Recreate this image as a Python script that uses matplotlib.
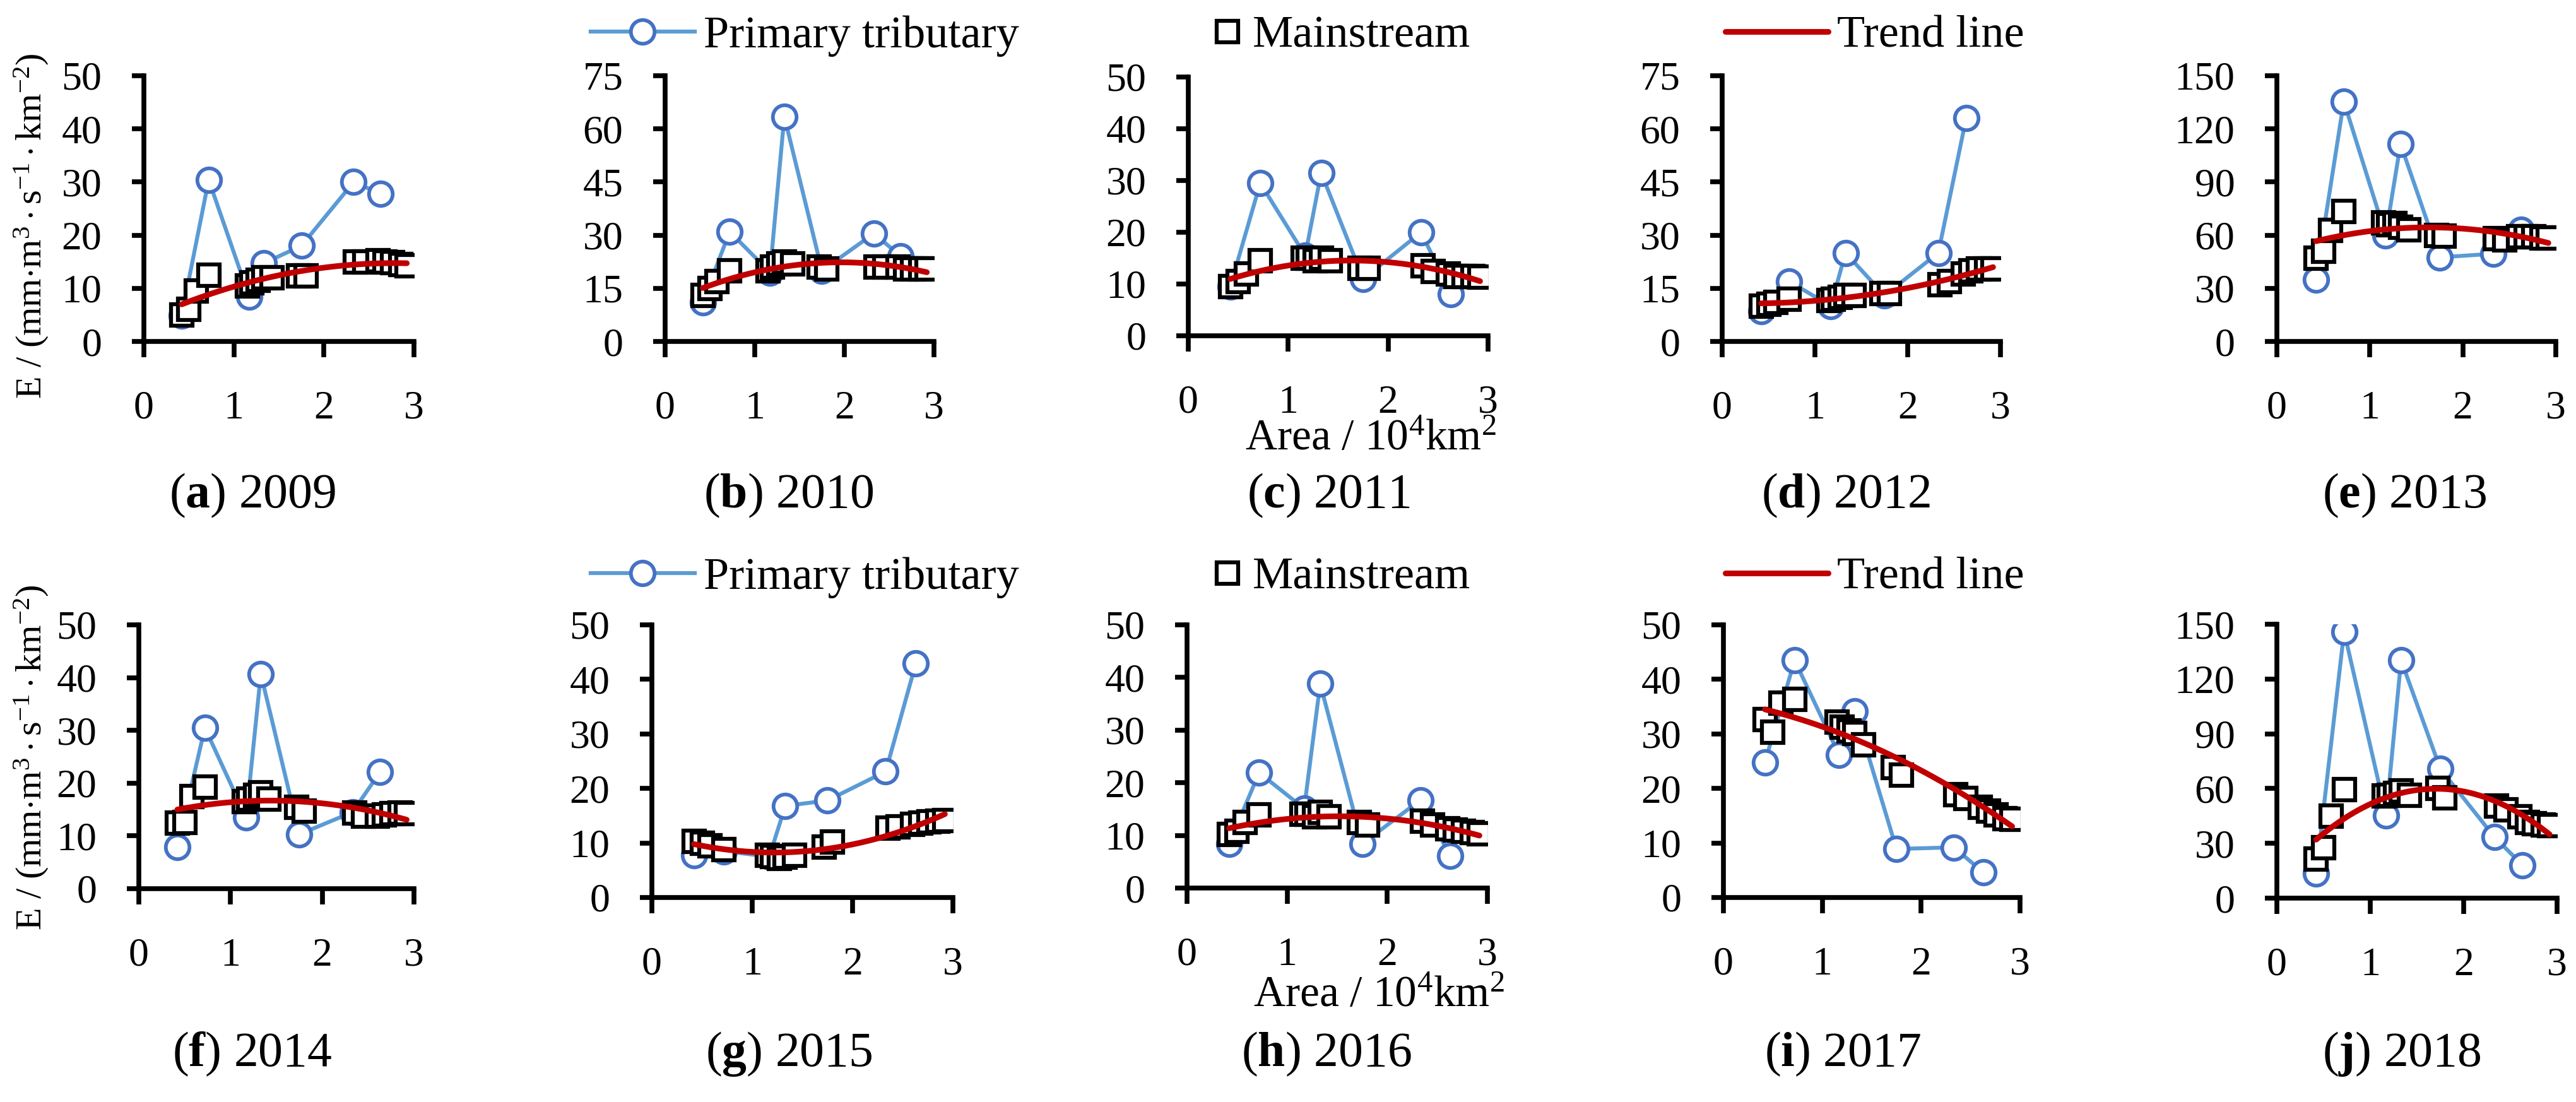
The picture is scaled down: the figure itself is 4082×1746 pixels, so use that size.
import numpy as np
import matplotlib
matplotlib.use("Agg")
import matplotlib.pyplot as plt

plt.rcParams['font.family'] = ['Liberation Serif', 'DejaVu Serif']
plt.rcParams['mathtext.fontset'] = 'custom'
plt.rcParams['mathtext.rm'] = 'Liberation Serif'
plt.rcParams['mathtext.it'] = 'Liberation Serif:italic'
plt.rcParams['mathtext.bf'] = 'Liberation Serif:bold'

# areas (10^4 km2) of the stations
trib_x = [0.42, 0.72, 1.17, 1.33, 1.75, 2.33, 2.63]
main_x = [0.42, 0.50, 0.58, 0.72, 1.15, 1.20, 1.27, 1.33, 1.42,
          1.72, 1.80, 2.35, 2.45, 2.60, 2.68, 2.76, 2.85, 2.92]

years = ['2009', '2010', '2011', '2012', '2013',
         '2014', '2015', '2016', '2017', '2018']
letters = ['a', 'b', 'c', 'd', 'e', 'f', 'g', 'h', 'i', 'j']
y_max = [50, 75, 50, 75, 150, 50, 50, 50, 50, 150]
y_step = [10, 15, 10, 15, 30, 10, 10, 10, 10, 30]

trib_2009 = [4.9, 30.4, 8.4, 14.7, 18.0, 30.0, 27.8]
trib_2010 = [11.0, 31.0, 19.5, 63.5, 20.0, 30.5, 24.0]
trib_2011 = [9.5, 29.5, 15.5, 31.5, 11.0, 20.0, 8.0]
trib_2012 = [8.5, 17.0, 10.0, 25.0, 13.0, 25.0, 63.0]
trib_2013 = [35.0, 135.5, 60.0, 111.5, 47.5, 49.5, 63.0]
trib_2014 = [7.9, 30.5, 13.5, 40.7, 10.3, 14.5, 22.1]
trib_2015 = [7.7, 8.5, 7.5, 16.8, 17.8, 23.1, 42.9]
trib_2016 = [8.4, 21.9, 15.1, 38.8, 8.4, 16.7, 6.1]
trib_2017 = [24.8, 43.5, 26.2, 34.2, 8.9, 9.2, 4.6]
trib_2018 = [13.5, 146.0, 45.4, 130.3, 70.8, 33.4, 18.1]

main_2009 = [5.0, 6.0, 9.5, 12.5, 10.5, 11.0, 11.5, 12.0, 12.0,
             12.3, 12.3, 15.0, 15.0, 15.2, 15.0, 14.8, 14.5, 14.3]
main_2010 = [13.0, 15.0, 17.0, 20.0, 20.0, 21.0, 22.0, 22.5, 22.0,
             21.0, 20.5, 21.0, 21.0, 21.0, 20.5, 20.5, 20.5, 20.5]
main_2011 = [9.5, 10.5, 12.0, 14.5, 15.0, 15.0, 14.5, 15.0, 14.5,
             13.0, 13.0, 13.5, 12.5, 12.0, 11.5, 11.5, 11.5, 11.3]
main_2012 = [10.0, 10.5, 11.0, 12.0, 11.5, 12.0, 12.5, 13.0, 13.0,
             13.5, 13.5, 16.0, 17.0, 19.0, 20.0, 20.5, 20.5, 20.5]
main_2013 = [46.9, 50.8, 62.8, 73.4, 67.0, 66.0, 66.5, 64.5, 63.0,
             60.0, 59.5, 58.0, 57.5, 59.0, 59.0, 59.0, 58.5, 58.5]
main_2014 = [12.5, 12.6, 17.5, 19.2, 16.5, 17.0, 17.7, 18.2, 17.0,
             15.4, 14.7, 14.4, 13.7, 13.8, 14.0, 14.2, 14.4, 14.2]
main_2015 = [10.3, 10.0, 9.5, 8.8, 7.8, 7.5, 7.2, 7.4, 7.7,
             9.3, 10.2, 12.7, 13.0, 13.4, 13.6, 13.9, 14.0, 14.1]
main_2016 = [10.2, 10.8, 12.5, 13.9, 14.0, 14.0, 13.6, 14.4, 13.5,
             12.5, 12.0, 12.7, 12.0, 11.3, 11.0, 10.8, 10.5, 10.3]
main_2017 = [32.6, 30.3, 35.6, 36.4, 32.2, 31.2, 30.5, 30.1, 28.0,
             23.9, 22.5, 18.9, 18.2, 16.5, 15.9, 15.2, 14.5, 14.3]
main_2018 = [21.6, 27.7, 44.8, 59.4, 55.9, 56.3, 57.5, 58.8, 56.5,
             60.1, 55.0, 50.6, 48.3, 44.5, 41.6, 40.8, 40.2, 39.7]

tribs = [trib_2009, trib_2010, trib_2011, trib_2012, trib_2013,
         trib_2014, trib_2015, trib_2016, trib_2017, trib_2018]
mains = [main_2009, main_2010, main_2011, main_2012, main_2013,
         main_2014, main_2015, main_2016, main_2017, main_2018]

W, H = 4082, 1746
# axes boxes in pixels: left, right, top, bottom
boxes = [(228, 656, 120, 541), (1054, 1480, 120, 541), (1883, 2358, 122, 532),
         (2729, 3170, 120, 541), (3608, 4050, 120, 541),
         (220, 656, 990, 1408), (1033, 1510, 990, 1422), (1881, 2357, 990, 1407),
         (2731, 3201, 990, 1422), (3608, 4052, 989, 1423)]
cap_x = [400, 1250, 2105, 2925, 3810, 400, 1250, 2102, 2920, 3806]

fig = plt.figure(figsize=(W / 100, H / 100), dpi=100)

blue_line = '#5B9BD5'
blue_mark = '#4472C4'
red = '#C00000'
handles = None

for k in range(10):
    l, r, t, b = boxes[k]
    ax = fig.add_axes([l / W, 1 - b / H, (r - l) / W, (b - t) / H])
    h1, = ax.plot(trib_x, tribs[k], color=blue_line, lw=4.5, marker='o', ms=27,
                  mfc='white', mec=blue_mark, mew=4.2, zorder=2)
    h2, = ax.plot(main_x, mains[k], ls='none', marker='s', ms=25,
                  mfc='white', mec='black', mew=4.5, zorder=3)
    # polynomial trend of the mainstream points
    coef = np.polyfit(main_x, mains[k], 2)
    xs = np.linspace(main_x[0], main_x[-1], 200)
    h3, = ax.plot(xs, np.polyval(coef, xs), color=red, lw=6.5,
                  solid_capstyle='round', zorder=4)
    if handles is None:
        handles = (h1, h2, h3)
    ax.set_xlim(0, 3)
    ax.set_ylim(0, y_max[k])
    ax.set_xticks([0, 1, 2, 3])
    ax.set_yticks(np.arange(0, y_max[k] + 1, y_step[k]))
    for s in ['top', 'right']:
        ax.spines[s].set_visible(False)
    for s in ['left', 'bottom']:
        ax.spines[s].set_linewidth(5.5)
    ax.tick_params(axis='y', direction='out', length=14, width=5.5, pad=34,
                   labelsize=46)
    ax.tick_params(axis='x', direction='out', length=18, width=5.5, pad=38,
                   labelsize=46)
    ax.patch.set_alpha(0)
    fig.text(cap_x[k] / W, 1 - (785 if k < 5 else 1670) / H,
             r'($\mathbf{' + letters[k] + r'}$) ' + years[k],
             fontsize=56, ha='center', va='center')

# y labels and x labels
ylab = r'E / (mm$\cdot$m$^3\cdot$s$^{-1}\cdot$km$^{-2}$)'
for yc in [358, 1200]:
    fig.text(50 / W, 1 - yc / H, ylab, rotation=90, fontsize=42,
             ha='center', va='center')
for xc, yc in [(2172, 696), (2185, 1578)]:
    fig.text(xc / W, 1 - yc / H, r'Area / 10$^4$km$^2$', fontsize=50,
             ha='center', va='center')

# legends
for ly in [57, 915]:
    yy = 1 - ly / H
    fig.legend(handles=[handles[0]], labels=['Primary tributary'], loc='center left',
               bbox_to_anchor=(936 / W, yy), frameon=False, fontsize=52,
               handlelength=2.28, handletextpad=0.2, borderpad=0, borderaxespad=0)
    fig.legend(handles=[handles[1]], labels=['Mainstream'], loc='center left',
               bbox_to_anchor=(1923 / W, yy), frameon=False, fontsize=52,
               handlelength=0.6, handletextpad=0.26, borderpad=0, borderaxespad=0,
               numpoints=1)
    fig.legend(handles=[handles[2]], labels=['Trend line'], loc='center left',
               bbox_to_anchor=(2734 / W, yy), frameon=False, fontsize=52,
               handlelength=2.25, handletextpad=0.2, borderpad=0, borderaxespad=0)

fig.savefig('out.png', dpi=100)
